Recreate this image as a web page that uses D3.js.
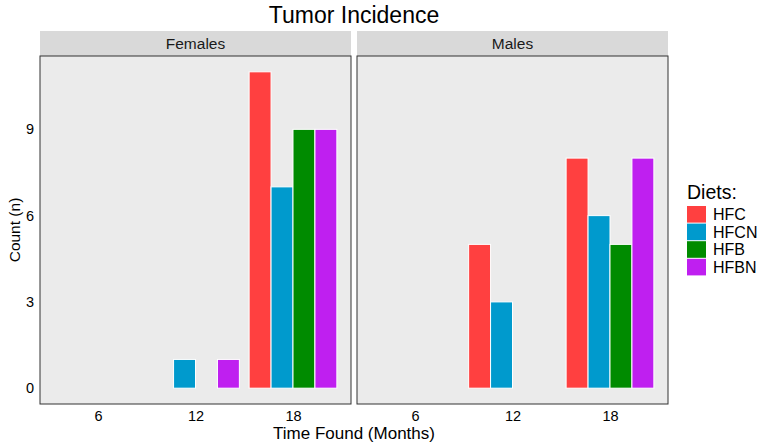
<!DOCTYPE html>
<html>
<head>
<meta charset="utf-8">
<script src="https://cdn.jsdelivr.net/npm/d3@7"></script>
<style>
  body { margin: 0; background: #fff; }
  text { font-family: "Liberation Sans", Arial, sans-serif; }
</style>
</head>
<body>
<div id="chart"></div>
<script>
const width = 763;
const height = 446;

// data
const panels = ["Females", "Males"];
const months = [6, 12, 18];
const diets = ["HFC", "HFCN", "HFB", "HFBN"];
const dietColors = ["#FF4040", "#009ACD", "#008B00", "#BF1FF0"];
const femaleCounts = { HFC: [0, 0, 11], HFCN: [0, 1, 7], HFB: [0, 0, 9], HFBN: [0, 1, 9] };
const maleCounts = { HFC: [0, 5, 8], HFCN: [0, 3, 6], HFB: [0, 0, 5], HFBN: [0, 0, 8] };
const yTicks = [0, 3, 6, 9];

const panelCounts = [femaleCounts, maleCounts];

const svg = d3.select("#chart").append("svg")
  .attr("width", width)
  .attr("height", height);

const panelLeft = [40, 357];
const panelW = 311;
const panelTop = 56;
const panelBottom = 404;
const stripH = 25;

// continuous x like ggplot: dodge width 0.9 * resolution(6)
const groupW = 0.9 * 6;
const xMin = d3.min(months) - groupW / 2;
const xMax = d3.max(months) + groupW / 2;
const xPad = (xMax - xMin) * 0.05;
const yMax = 11;

const y = d3.scaleLinear()
  .domain([-yMax * 0.05, yMax * 1.05])
  .range([panelBottom, panelTop]);

const color = d3.scaleOrdinal().domain(diets).range(dietColors);

svg.append("text")
  .attr("x", 354)
  .attr("y", 23)
  .attr("text-anchor", "middle")
  .style("font-size", "23px")
  .text("Tumor Incidence");

panels.forEach((name, p) => {
  const x = d3.scaleLinear()
    .domain([xMin - xPad, xMax + xPad])
    .range([panelLeft[p], panelLeft[p] + panelW]);

  // strip
  svg.append("rect")
    .attr("x", panelLeft[p])
    .attr("y", panelTop - stripH)
    .attr("width", panelW)
    .attr("height", stripH)
    .attr("fill", "#D9D9D9");
  svg.append("text")
    .attr("x", panelLeft[p] + panelW / 2)
    .attr("y", panelTop - stripH / 2)
    .attr("dy", "0.35em")
    .attr("text-anchor", "middle")
    .style("font-size", "15.5px")
    .attr("fill", "#1A1A1A")
    .text(name);

  // panel background
  svg.append("rect")
    .attr("x", panelLeft[p])
    .attr("y", panelTop)
    .attr("width", panelW)
    .attr("height", panelBottom - panelTop)
    .attr("fill", "#EBEBEB");

  // bars
  const counts = panelCounts[p];
  const barW = groupW / diets.length;
  const bars = [];
  diets.forEach((d, i) => {
    months.forEach((m, j) => {
      if (counts[d][j] > 0) {
        bars.push({ diet: d, x0: m - groupW / 2 + i * barW, value: counts[d][j] });
      }
    });
  });
  svg.append("g").selectAll("rect")
    .data(bars)
    .join("rect")
    .attr("x", d => x(d.x0))
    .attr("width", d => x(d.x0 + barW) - x(d.x0))
    .attr("y", d => y(d.value))
    .attr("height", d => y(0) - y(d.value))
    .attr("fill", d => color(d.diet))
    .attr("stroke", "#fff")
    .attr("stroke-width", 1);

  // border
  svg.append("rect")
    .attr("x", panelLeft[p])
    .attr("y", panelTop)
    .attr("width", panelW)
    .attr("height", panelBottom - panelTop)
    .attr("fill", "none")
    .attr("stroke", "#333")
    .attr("stroke-width", 1);

  // x tick labels
  const xAxis = svg.append("g")
    .attr("transform", `translate(0,${panelBottom})`)
    .call(d3.axisBottom(x).tickValues(months).tickSize(0).tickPadding(7));
  xAxis.select(".domain").remove();
  xAxis.selectAll("text")
    .style("font-size", "14.5px")
    .style("font-family", "Liberation Sans, Arial, sans-serif")
    .attr("fill", "#000");
});

// y tick labels
const yAxis = svg.append("g")
  .attr("transform", `translate(${panelLeft[0]},0)`)
  .call(d3.axisLeft(y).tickValues(yTicks).tickSize(0).tickPadding(6));
yAxis.select(".domain").remove();
yAxis.selectAll("text")
  .style("font-size", "14.5px")
  .style("font-family", "Liberation Sans, Arial, sans-serif")
  .attr("fill", "#000");

// axis titles
svg.append("text")
  .attr("x", 354)
  .attr("y", 439)
  .attr("text-anchor", "middle")
  .style("font-size", "17px")
  .text("Time Found (Months)");

svg.append("text")
  .attr("transform", `translate(20,${(panelTop + panelBottom) / 2}) rotate(-90)`)
  .attr("text-anchor", "middle")
  .style("font-size", "15.5px")
  .text("Count (n)");

// legend
const legend = svg.append("g").attr("transform", "translate(687,0)");
legend.append("text")
  .attr("x", 0)
  .attr("y", 199)
  .style("font-size", "19.5px")
  .text("Diets:");
diets.forEach((d, i) => {
  legend.append("rect")
    .attr("x", 0)
    .attr("y", 206 + i * 17.6)
    .attr("width", 19)
    .attr("height", 16.6)
    .attr("fill", color(d));
  legend.append("text")
    .attr("x", 26)
    .attr("y", 206 + i * 17.6 + 8.5)
    .attr("dy", "0.35em")
    .style("font-size", "16px")
    .text(d);
});
</script>
</body>
</html>
